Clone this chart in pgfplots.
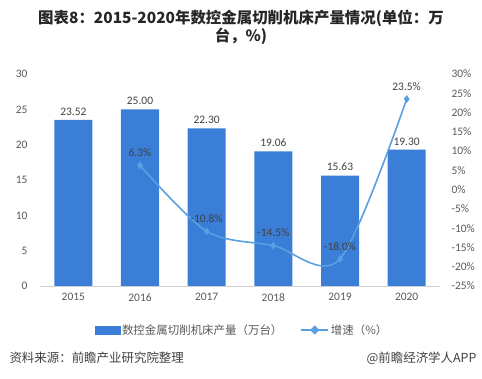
\documentclass[border=0pt]{standalone}
\usepackage{pgfplots}
\pgfplotsset{compat=1.18}
\usepackage{fontspec}
\setmainfont{Carlito}
\newfontfamily\cjk{Noto Sans CJK SC}
\definecolor{barblue}{RGB}{58,126,216}
\definecolor{lineblue}{RGB}{88,160,224}
\definecolor{txtgrey}{RGB}{89,89,89}
\definecolor{lblgrey}{RGB}{64,64,64}
\begin{document}
\begin{tikzpicture}
\path[use as bounding box] (0,0) rectangle (482bp,379bp);
\node[font=\cjk\bfseries\fontsize{15.5}{18}\selectfont, text=black!85, align=center] at (241bp,352bp) {图表8：2015-2020年数控金属切削机床产量情况(单位：万\\台，\%)};
\node[font=\cjk\fontsize{12.5}{14}\selectfont, text=black!75, anchor=west] at (6bp,21bp) {资料来源：前瞻产业研究院整理};
\node[font=\cjk\fontsize{12.5}{14}\selectfont, text=black!75, anchor=east] at (480bp,21bp) {@前瞻经济学人APP};
\begin{axis}[
  at={(40bp,93bp)}, anchor=south west,
  scale only axis, width=400bp, height=212bp,
  xmin=-0.5, xmax=5.5, ymin=0, ymax=30,
  ytick={0,5,...,30},
  xtick={0,1,2,3,4,5}, xticklabels={2015,2016,2017,2018,2019,2020},
  axis x line*=bottom, axis y line*=left,
  y axis line style={draw=none},
  x axis line style={draw=black!18, line width=0.8pt, -},
  major tick length=0,
  tick label style={font=\fontsize{11.5}{12}\selectfont, text=txtgrey},
  /pgf/number format/assume math mode=true,
  yticklabel style={xshift=-9bp},
  xticklabel style={yshift=-4bp},
  ybar, bar width=38bp,
  nodes near coords={\pgfmathprintnumber[fixed,fixed zerofill,precision=2]{\pgfplotspointmeta}},
  nodes near coords style={font=\fontsize{11.5}{12}\selectfont, text=lblgrey, yshift=1bp},
  clip=false,
]
\addplot[fill=barblue, draw=none] coordinates {(0,23.52) (1,25.00) (2,22.30) (3,19.06) (4,15.63) (5,19.30)};
\end{axis}
\begin{axis}[
  at={(40bp,93bp)}, anchor=south west,
  scale only axis, width=400bp, height=212bp,
  xmin=-0.5, xmax=5.5, ymin=-25, ymax=30,
  axis x line=none, axis y line*=right,
  y axis line style={draw=none},
  major tick length=0,
  ytick={-25,-20,-15,-10,-5,0,5,10,15,20,25,30},
  yticklabels={-25\%,-20\%,-15\%,-10\%,-5\%,0\%,5\%,10\%,15\%,20\%,25\%,30\%},
  tick label style={font=\fontsize{11.5}{12}\selectfont, text=txtgrey},
  yticklabel style={xshift=8bp},
  /pgf/number format/assume math mode=true,
  clip=false,
  legend style={at={(0.505,-0.2075)}, anchor=center, draw=none, fill=none,
    legend columns=2, font=\cjk\fontsize{11.5}{13}\selectfont, text=txtgrey,
    /tikz/every even column/.append style={column sep=16bp}},
]
\addlegendimage{legend image code/.code={\fill[barblue] (0bp,-4bp) rectangle (25bp,4bp);}}
\addlegendentry{数控金属切削机床产量（万台）}
\addplot[smooth, color=lineblue, line width=1.6pt,
  mark=diamond*, mark size=3.5bp, mark options={fill=lineblue, draw=lineblue, line width=0.5pt},
  legend image code/.code={\draw[lineblue, line width=1.6pt] (0bp,0bp) -- (27bp,0bp);
     \fill[lineblue] (13.5bp,3.5bp) -- (17bp,0bp) -- (13.5bp,-3.5bp) -- (10bp,0bp) -- cycle;},
  point meta=explicit,
  nodes near coords={\pgfmathprintnumber[fixed,fixed zerofill,precision=1]{\pgfplotspointmeta}\%},
  every node near coord/.append style={font=\fontsize{11.5}{12}\selectfont, text=lblgrey, anchor=south, yshift=5bp},
] table[meta=y] {
x y
1 6.3
2 -10.8
3 -14.5
4 -18.0
5 23.5
};
\addlegendentry{增速（\%）}
\end{axis}
\end{tikzpicture}
\end{document}
